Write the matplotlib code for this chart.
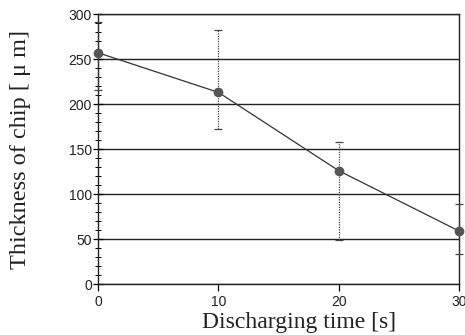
import matplotlib
matplotlib.use('Agg')
import matplotlib.pyplot as plt
from matplotlib.ticker import MultipleLocator

# Données
temps = [0, 10, 20, 30]
epaisseur = [257, 213, 126, 59]
err_haut = [291, 282, 158, 89]
err_bas = [216, 172, 49, 33]

yerr = [[e - b for e, b in zip(epaisseur, err_bas)],
        [h - e for e, h in zip(epaisseur, err_haut)]]

fig = plt.figure(figsize=(4.65, 3.35), dpi=100)
ax = fig.add_axes([0.211, 0.152, 0.776, 0.806])

ax.set_axisbelow(True)
ax.grid(axis='y', color='#222222', linewidth=1.0)

eb = ax.errorbar(temps, epaisseur, yerr=yerr, color='#333333', linewidth=0.9,
                 marker='o', markersize=6, markerfacecolor='#555555',
                 markeredgecolor='#555555', ecolor='#444444', elinewidth=0.9,
                 capsize=3, capthick=0.9, clip_on=False, zorder=3)
eb[2][0].set_linestyle((0, (1, 1)))

ax.set_xlim(0, 30)
ax.set_ylim(0, 300)
ax.set_xticks(temps)
ax.set_yticks(range(0, 301, 50))
ax.yaxis.set_minor_locator(MultipleLocator(10))

for s in ax.spines.values():
    s.set_color('#222222')
    s.set_linewidth(1.0)

ax.tick_params(axis='y', which='major', direction='inout', length=7, width=0.9,
               labelsize=10, pad=1)
ax.tick_params(axis='y', which='minor', direction='inout', length=4, width=0.7)
ax.tick_params(axis='x', which='major', direction='out', length=5, width=0.9,
               labelsize=10, pad=3)
for lab in ax.get_xticklabels() + ax.get_yticklabels():
    lab.set_family('Liberation Sans')
    lab.set_color('#222222')

ax.set_xlabel('Discharging time [s]', family='Liberation Serif', fontsize=17,
              color='#222222')
ax.xaxis.set_label_coords(0.557, -0.105)
ax.set_ylabel('Thickness of chip [ μ m]', family='Liberation Serif', fontsize=17.5,
              labelpad=27, color='#222222')

fig.savefig('out.png', dpi=100)
